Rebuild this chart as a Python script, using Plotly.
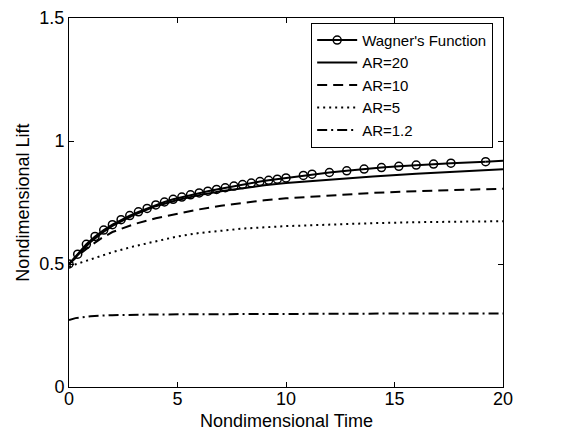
import plotly.graph_objects as go

# Wagner's function (marker points)
wagner_t = [0, 0.4, 0.8, 1.2, 1.6, 2.0, 2.4, 2.8, 3.2, 3.6, 4.0, 4.4, 4.8, 5.2, 5.6, 6.0,
            6.4, 6.8, 7.2, 7.6, 8.0, 8.4, 8.8, 9.2, 9.6, 10.0, 10.8, 11.2, 12.0, 12.8,
            13.6, 14.4, 15.2, 16.0, 16.8, 17.6, 19.2]
wagner_l = [0.500, 0.540, 0.580, 0.612, 0.638, 0.660, 0.680, 0.697, 0.712, 0.726, 0.740,
            0.752, 0.763, 0.772, 0.781, 0.789, 0.796, 0.803, 0.810, 0.817, 0.823, 0.829,
            0.835, 0.840, 0.845, 0.850, 0.860, 0.865, 0.872, 0.879, 0.886, 0.892, 0.897,
            0.902, 0.906, 0.910, 0.916]
wagner_end_t = [19.2, 20]
wagner_end_l = [0.916, 0.920]

ar20_t = [0, 0.5, 1, 1.5, 2, 3, 4, 5, 6, 7, 8, 9, 10, 12, 14, 16, 18, 20]
ar20_l = [0.500, 0.545, 0.590, 0.625, 0.655, 0.700, 0.735, 0.760, 0.780, 0.796, 0.809,
          0.820, 0.829, 0.843, 0.856, 0.867, 0.877, 0.885]

ar10_t = [0, 0.5, 1, 1.5, 2, 3, 4, 5, 6, 7, 8, 9, 10, 12, 14, 16, 18, 20]
ar10_l = [0.500, 0.540, 0.575, 0.605, 0.630, 0.662, 0.686, 0.705, 0.722, 0.737, 0.749,
          0.759, 0.767, 0.779, 0.789, 0.796, 0.801, 0.806]

ar5_t = [0, 0.5, 1, 2, 3, 4, 5, 6, 7, 8, 10, 12, 14, 16, 18, 20]
ar5_l = [0.490, 0.505, 0.520, 0.548, 0.572, 0.592, 0.612, 0.626, 0.636, 0.644, 0.654,
         0.661, 0.666, 0.670, 0.672, 0.674]

ar12_t = [0, 0.3, 1, 2, 4, 8, 12, 16, 20]
ar12_l = [0.272, 0.280, 0.288, 0.292, 0.295, 0.297, 0.298, 0.299, 0.299]

x_ticks = [0, 5, 10, 15, 20]
y_ticks = [0, 0.5, 1, 1.5]
y_tick_text = ["0", "0.5", "1", "1.5"]

FONT = "Arial, Liberation Sans, Helvetica, sans-serif"

fig = go.Figure()
fig.add_trace(go.Scatter(x=wagner_t, y=wagner_l, mode="lines+markers", name="Wagner's Function",
                         line=dict(color="black", width=2),
                         marker=dict(symbol="circle-open", size=8, color="black",
                                     line=dict(width=1.5, color="black"))))
fig.add_trace(go.Scatter(x=wagner_end_t, y=wagner_end_l, mode="lines", showlegend=False,
                         line=dict(color="black", width=2)))
fig.add_trace(go.Scatter(x=ar20_t, y=ar20_l, mode="lines", name="AR=20",
                         line=dict(color="black", width=2)))
fig.add_trace(go.Scatter(x=ar10_t, y=ar10_l, mode="lines", name="AR=10",
                         line=dict(color="black", width=2, dash="10px,6px")))
fig.add_trace(go.Scatter(x=ar5_t, y=ar5_l, mode="lines", name="AR=5",
                         line=dict(color="black", width=2, dash="2px,4px")))
fig.add_trace(go.Scatter(x=ar12_t, y=ar12_l, mode="lines", name="AR=1.2",
                         line=dict(color="black", width=2, dash="10px,4px,2px,4px")))

axis_common = dict(showgrid=False, zeroline=False, showline=True, linecolor="black",
                   linewidth=1, mirror="ticks", ticks="inside", ticklen=5,
                   tickcolor="black", automargin=False,
                   tickfont=dict(family=FONT, size=18, color="black"))

fig.update_layout(
    width=559, height=429,
    margin=dict(l=61, r=64, t=10, b=50),
    paper_bgcolor="white", plot_bgcolor="white",
    font=dict(family=FONT, color="black"),
    xaxis=dict(range=[0, 20], tickvals=x_ticks, ticklabelstandoff=-5, **axis_common),
    yaxis=dict(range=[0, 1.5], tickvals=y_ticks, ticktext=y_tick_text, **axis_common),
    legend=dict(x=0.558, y=0.987, xanchor="left", yanchor="top",
                bgcolor="white", bordercolor="black", borderwidth=1,
                font=dict(family=FONT, size=15, color="black"),
                tracegroupgap=0, itemwidth=40),
    showlegend=True,
    annotations=[
        dict(text="Nondimensional Time", xref="paper", yref="paper", x=0.5, y=-0.092,
             xanchor="center", yanchor="middle", showarrow=False,
             font=dict(family=FONT, size=18, color="black")),
        dict(text="Nondimensional Lift", xref="paper", yref="paper", x=-0.108, y=0.5,
             xanchor="center", yanchor="middle", showarrow=False, textangle=-90,
             font=dict(family=FONT, size=18, color="black")),
    ],
)

fig.write_html("out.html")
